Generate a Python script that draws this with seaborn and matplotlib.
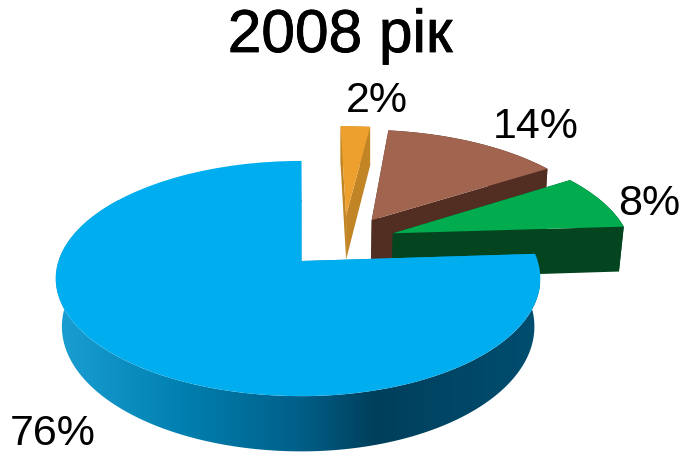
import numpy as np
import matplotlib
matplotlib.use("Agg")
import matplotlib.pyplot as plt
import matplotlib.patheffects as pe
from matplotlib.patches import Polygon
from matplotlib.transforms import Transform
from matplotlib.colors import LinearSegmentedColormap
import seaborn as sns

title = "2008 рік"
shares = [2, 14, 8, 76]
labels = ["2%", "14%", "8%", "76%"]
top_colors = ["#EEA02E", "#A1644E", "#00AC4E", "#00AEEF"]
wall_colors = ["#C28525", "#522D22", "#04451F", "#0A8FC4"]
shift_x = [0.195, 0.305, 0.39, 0.0]
shift_y = [0.42, 0.375, 0.25, 0.0]
right_stretch = [1.17, 1.0, 1.0, 0.972]
wall_lean = [1.0, 0.99, 0.985, 0.975]
label_x = [346, 493, 618, 10]
label_y = [112, 138, 215, 445]

CX, CY, A, B, K, H = 301.5, 261.0, 243.0, 115.0, 0.149, 47.0


def project(x, y, z=0.0, ox=0.0, stretch=1.0, lean=1.0):
    x = np.asarray(x, float)
    y = np.asarray(y, float)
    x = np.where(x > ox, ox + (x - ox) * stretch, x)
    s = 1.0 / (1.0 + K * y)
    sx = x * s * A * (1 - z * (1 - lean))
    sy = -y * s * B + z * H * s
    return CX + sx, CY + sy


class Perspective(Transform):
    input_dims = 2
    output_dims = 2

    def __init__(self, ox=0.0, stretch=1.0):
        super().__init__()
        self.ox = ox
        self.stretch = stretch

    def transform_non_affine(self, values):
        values = np.asarray(values)
        px, py = project(values[:, 0], values[:, 1], 0.0, self.ox, self.stretch)
        return np.column_stack([px, py])


sns.set_theme(style="white")
plt.rcParams["font.family"] = ["Liberation Sans", "DejaVu Sans"]

fig = plt.figure(figsize=(6.85, 4.53), dpi=100)
ax = fig.add_axes([0, 0, 1, 1])

wedges, _ = ax.pie(shares, startangle=90, counterclock=False, colors=top_colors,
                   wedgeprops={"linewidth": 0})
ax.set_aspect("auto")
ax.axis("off")

blue_wall = LinearSegmentedColormap.from_list(
    "wall", [(0.0, "#1B9FD3"), (0.26, "#0080B0"), (0.50, "#00608A"),
             (0.66, "#003F5C"), (1.0, "#004E70")])

for i, w in enumerate(wedges):
    ox, oy, st, ln = shift_x[i], shift_y[i], right_stretch[i], wall_lean[i]
    w.set_center((ox, oy))
    w.set_transform(Perspective(ox, st) + ax.transData)
    w.set_zorder(2 * i + 2)
    w.set_clip_on(False)

    # cut faces
    for ang in (w.theta1, w.theta2):
        ex = ox + np.cos(np.radians(ang))
        ey = oy + np.sin(np.radians(ang))
        p0 = project([ox, ex], [oy, ey], 0.0, ox, st, ln)
        p1 = project([ex, ox], [ey, oy], 1.0, ox, st, ln)
        ax.fill(np.r_[p0[0], p1[0]], np.r_[p0[1], p1[1]], color=wall_colors[i],
                lw=0, zorder=2 * i + 1)

    # outer wall
    th = np.radians(np.linspace(w.theta1, w.theta2, max(int(w.theta2 - w.theta1) * 2, 8)))
    ex = ox + np.cos(th)
    ey = oy + np.sin(th)
    tx, ty = project(ex, ey, 0.0, ox, st, ln)
    bx, by = project(ex, ey, 1.0, ox, st, ln)
    if i == 3:
        clip = Polygon(np.column_stack([np.r_[tx, bx[::-1]], np.r_[ty, by[::-1]]]),
                       closed=True, transform=ax.transData)
        grad = np.linspace(0, 1, 512).reshape(1, -1)
        im = ax.imshow(grad, cmap=blue_wall, extent=(55, 540, 460, 200),
                       aspect="auto", zorder=2 * i + 1, interpolation="bilinear")
        im.set_clip_path(clip)
    else:
        ax.fill(np.r_[tx, bx[::-1]], np.r_[ty, by[::-1]], color=wall_colors[i],
                lw=0, zorder=2 * i + 1)

ax.set_xlim(0, 685)
ax.set_ylim(453, 0)

for s, lx, ly in zip(labels, label_x, label_y):
    ax.text(lx, ly, s, fontsize=31, color="black", ha="left", va="baseline", zorder=20)
ax.text(340, 52, title, fontsize=43.5, color="black", ha="center", va="baseline", zorder=20,
        path_effects=[pe.withStroke(linewidth=0.6, foreground="black")])

fig.savefig("out.png", dpi=100, facecolor="white")
